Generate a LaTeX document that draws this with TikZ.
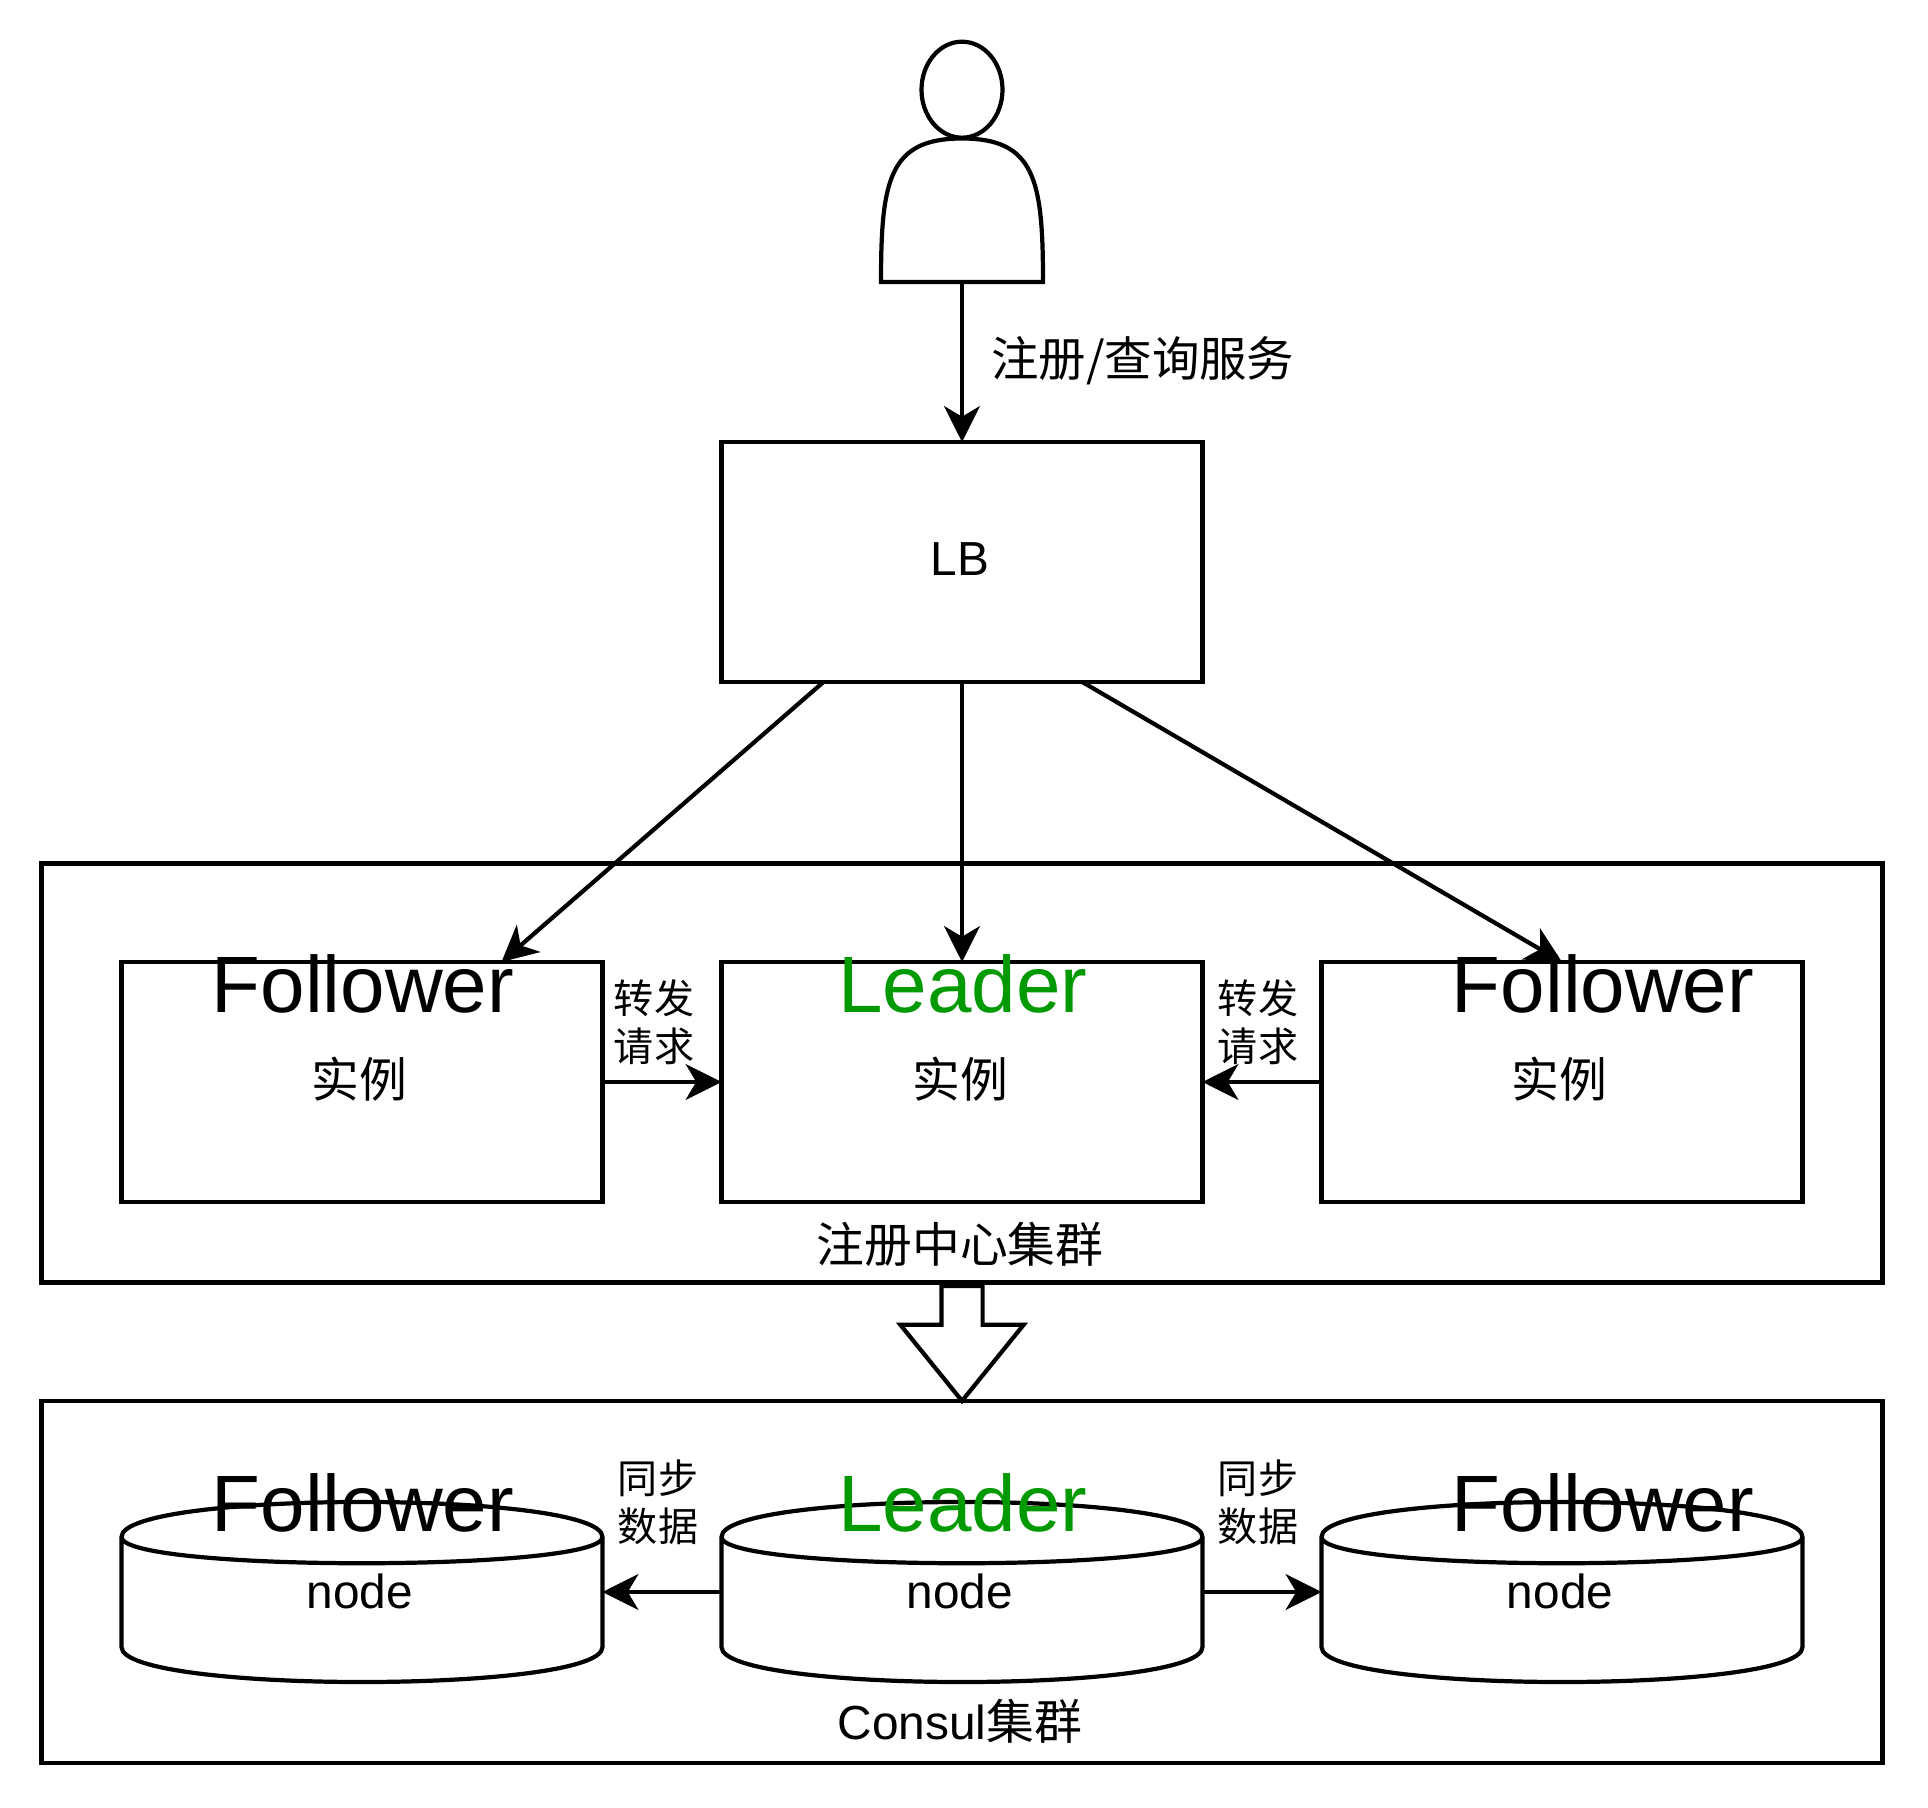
\documentclass[tikz,border=0pt]{standalone}
\usepackage{fontspec}
\setmainfont{Liberation Sans}
\newfontfamily\cjk{Noto Sans CJK SC}
\usetikzlibrary{arrows.meta,calc,shapes.geometric,shapes.arrows}
\definecolor{leadergreen}{HTML}{009900}

\begin{document}
\begin{tikzpicture}[
        line width=1.2pt,
        frame/.style={rectangle, draw=black, minimum width=18.41cm, inner sep=0pt, outer sep=0pt},
        inst/.style={rectangle, draw=black, minimum width=4.81cm, minimum height=2.4cm, inner sep=0pt, outer sep=0pt},
        store/.style={rectangle, minimum width=4.81cm, minimum height=1.8cm, inner sep=0pt, outer sep=0pt},
        arrow/.style={-{Stealth[length=10.2pt, width=10.2pt, inset=3pt]}},
        role/.style={font=\fontsize{22.75}{26}\selectfont, inner sep=0pt},
        label/.style={font=\fontsize{13.6}{16}\selectfont, inner sep=0pt},
        note/.style={font=\fontsize{11.4}{13.7}\selectfont\cjk, align=center, inner sep=0pt}
    ]
        \useasboundingbox (0,0) rectangle (19.28,-18.08);

        % User on top
        \node[ellipse, draw=black, minimum width=0.81cm, minimum height=0.96cm, inner sep=0pt] (userhead) at (9.62,-0.897) {};
        \coordinate (userfoot) at (9.62,-2.82);
        \draw (8.81,-2.82) .. controls (8.81,-1.80) and (8.89,-1.385) .. (9.62,-1.385)
            .. controls (10.35,-1.385) and (10.43,-1.80) .. (10.43,-2.82) -- cycle;

        % Load balancer
        \node[inst] (lb) at (9.62,-5.62) {};
        \node[label] (lbtext) at (9.6,-5.59) {LB};

        % Cluster frames
        \node[frame, minimum height=4.19cm] (regframe) at (9.62,-10.73) {};
        \node[frame, minimum height=3.615cm] (conframe) at (9.62,-15.82) {};
        \coordinate (downtip) at ($(conframe.north)+(0,-0.03)$);
        \node[single arrow, draw=black, rotate=-90, anchor=tip, minimum height=1.15cm, single arrow head extend=0.41cm, single arrow tip angle=78, inner xsep=0pt, inner ysep=0.185cm] (down) at (downtip) {};

        % Instances
        \node[inst] (follow1) at (3.62,-10.82) {};
        \node[inst] (leader) at (9.62,-10.82) {};
        \node[inst] (follow2) at (15.62,-10.82) {};

        % Consul nodes
        \node[store] (db1) at (3.62,-15.92) {};
        \node[store] (db2) at (9.62,-15.92) {};
        \node[store] (db3) at (15.62,-15.92) {};
        \foreach \n in {db1, db2, db3} {
            \draw ($(\n.north west)+(0,-0.35)$) .. controls ($(\n.north west)+(0,0.117)$) and ($(\n.north east)+(0,0.117)$) .. ($(\n.north east)+(0,-0.35)$)
                -- ($(\n.south east)+(0,0.35)$) .. controls ($(\n.south east)+(0,-0.117)$) and ($(\n.south west)+(0,-0.117)$) .. ($(\n.south west)+(0,0.35)$) -- cycle;
            \draw ($(\n.north west)+(0,-0.35)$) .. controls ($(\n.north west)+(0,-0.7)$) and ($(\n.north east)+(0,-0.7)$) .. ($(\n.north east)+(0,-0.35)$);
        }

        % Messages
        \coordinate (lbleft) at ($(lb.south west)!0.212!(lb.south east)$);
        \coordinate (lbright) at ($(lb.south west)!0.75!(lb.south east)$);
        \coordinate (follow1top) at ($(follow1.north west)!0.79!(follow1.north east)$);
        \draw[arrow] (userfoot) -- (lb.north);
        \draw[arrow] (lbleft) -- (follow1top);
        \draw[arrow] (lb.south) -- (leader.north);
        \draw[arrow] (lbright) -- (follow2.north);
        \draw[arrow] (follow1.east) -- (leader.west);
        \draw[arrow] (follow2.west) -- (leader.east);
        \draw[arrow] (db2.west) -- (db1.east);
        \draw[arrow] (db2.east) -- (db3.west);

        % Texts
        \node[label, anchor=west, font=\fontsize{13.5}{16}\selectfont\cjk] (asktext) at (9.89,-3.61) {注册/查询服务};

        \node[role] (f1text) at (3.63,-9.84) {Follower};
        \node[role, text=leadergreen] (ltext) at (9.63,-9.84) {Leader};
        \node[role] (f2text) at (16.03,-9.84) {Follower};
        \node[label, font=\fontsize{13.6}{16}\selectfont\cjk] (i1text) at (3.59,-10.79) {实例};
        \node[label, font=\fontsize{13.6}{16}\selectfont\cjk] (i2text) at (9.6,-10.79) {实例};
        \node[label, font=\fontsize{13.6}{16}\selectfont\cjk] (i3text) at (15.59,-10.79) {实例};
        \node[note] (fwd1) at (6.54,-10.22) {转发\\请求};
        \node[note] (fwd2) at (12.58,-10.22) {转发\\请求};
        \node[label, font=\fontsize{13.6}{16}\selectfont\cjk] (regtext) at (9.6,-12.44) {注册中心集群};

        \node[role] (f3text) at (3.63,-15.03) {Follower};
        \node[role, text=leadergreen] (l2text) at (9.63,-15.03) {Leader};
        \node[role] (f4text) at (16.03,-15.03) {Follower};
        \node[label] (n1text) at (3.6,-15.91) {node};
        \node[label] (n2text) at (9.6,-15.91) {node};
        \node[label] (n3text) at (15.6,-15.91) {node};
        \node[note] (sync1) at (6.58,-15.02) {同步\\数据};
        \node[note] (sync2) at (12.58,-15.02) {同步\\数据};
        \node[label] (context) at (9.6,-17.21) {Consul{\cjk 集群}};
    \end{tikzpicture}
\end{document}
